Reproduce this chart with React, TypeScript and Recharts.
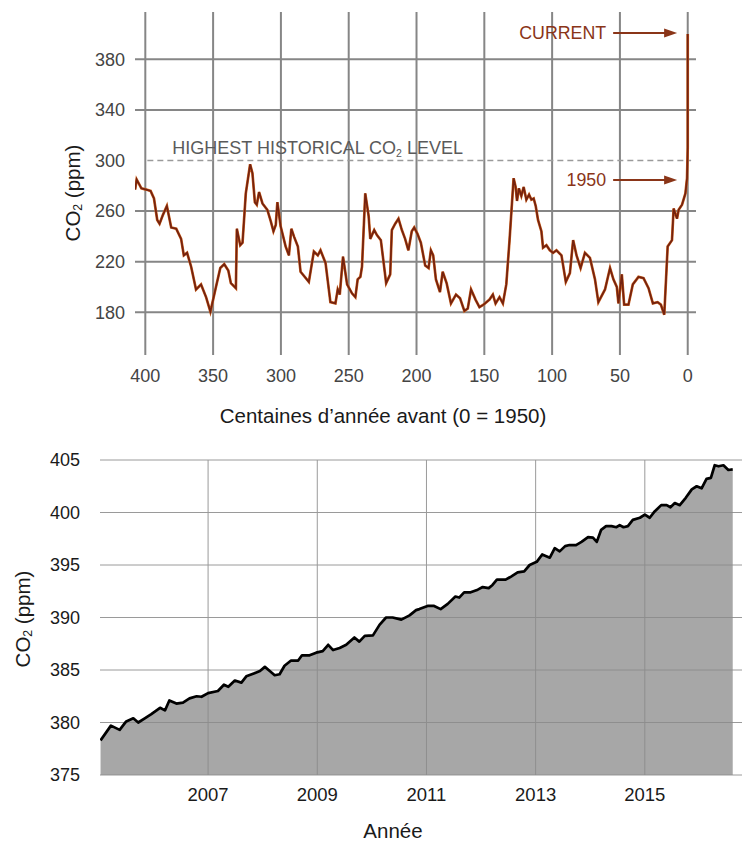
import { Area, AreaChart, CartesianGrid, Line, LineChart, ReferenceLine, XAxis, YAxis } from 'recharts'

const FONT = '"Liberation Sans", Arial, Helvetica, sans-serif'
const BROWN = '#8a3518'

// ice-core record: thousands of years before 1950, CO2 in ppm
const paleoAge = [
  407.5, 406.4, 402.9, 399.3, 396.1, 393.6, 391.2, 389.5, 387.0, 384.1, 380.9, 377.2, 373.6, 371.6, 369.2,
  366.2, 362.6, 358.9, 355.2, 352.0, 347.9, 344.7, 341.8, 338.8, 336.9, 333.2, 332.5, 330.0, 328.3, 325.9,
  322.7, 321.0, 319.2, 317.8, 316.1, 313.6, 310.0, 307.5, 305.5, 303.8, 302.6, 300.2, 296.5, 294.1, 292.3,
  290.4, 287.5, 285.5, 279.4, 275.7, 272.8, 270.8, 267.1, 263.5, 259.8, 258.1, 256.6, 254.2, 251.2, 247.6,
  245.1, 243.4, 241.4, 240.2, 237.8, 235.3, 234.1, 231.2, 229.2, 226.3, 224.8, 222.4, 219.4, 218.2, 215.7,
  213.3, 210.8, 208.4, 206.0, 203.5, 201.7, 199.3, 196.8, 193.6, 191.1, 189.4, 187.7, 185.7, 182.7, 180.7,
  177.8, 174.6, 170.9, 167.9, 164.7, 162.2, 159.8, 156.5, 153.6, 150.6, 146.2, 143.7, 141.7, 138.8, 136.3,
  133.8, 131.4, 128.4, 126.9, 125.9, 124.5, 122.7, 121.0, 119.0, 117.0, 115.3, 113.6, 112.1, 110.4, 107.9,
  106.7, 104.2, 101.7, 99.3, 96.8, 93.1, 89.9, 86.9, 84.5, 82.0, 79.0, 75.8, 72.1, 68.4, 65.9,
  61.0, 57.3, 54.8, 52.3, 51.1, 48.6, 46.9, 43.7, 40.5, 36.3, 32.6, 28.9, 25.7, 22.2, 19.8,
  17.3, 14.8, 11.6, 10.4, 7.9, 6.7, 4.2, 1.7, 0.5, 0, 0,
]
const paleoCo2 = [
  277, 285, 278, 277, 276, 270, 253, 250, 257, 264, 247, 246, 238, 225, 227,
  216, 198, 202, 192, 180.5, 200, 215, 218, 213, 203, 199, 246, 233, 235, 274,
  297, 290, 267, 265, 275, 266, 261, 252, 244, 249, 267, 248, 232, 225, 246,
  240, 232, 212, 204, 228, 225, 229, 219, 188, 187, 198, 194, 224, 202, 195,
  192, 206, 208, 216, 274, 256, 238, 245, 241, 237, 224, 203, 210, 245, 250,
  254, 245, 238, 229, 244, 247, 242, 235, 217, 215, 229, 225, 206, 196, 212,
  203, 187, 194, 191, 181, 183, 198, 190, 184, 186, 190, 194, 187, 192, 187,
  202, 237, 286, 279, 268, 278, 272, 279, 269, 273, 269, 270, 264, 253, 244,
  231, 233, 229, 227, 229, 225, 204, 211, 237, 225, 215, 227, 223, 206, 188,
  198, 215, 206, 200, 187, 210, 186, 186, 202, 208, 207, 199, 187, 188, 186,
  178, 232, 237, 262, 254, 261, 265, 274, 286, 310, 400,
]
const paleoTicks = [400, 350, 300, 250, 200, 150, 100, 50, 0]
const paleoCo2Ticks = [180, 220, 260, 300, 340, 380]
const paleoGridValues = [180, 220, 260, 340, 380]
const highestLevel = 300
const currentLevel = 400.8
const level1950 = 284.6

// Mauna Loa monthly record
const recentYears = [
  2005.03, 2005.22, 2005.38, 2005.5, 2005.63, 2005.72, 2005.84, 2005.96, 2006.12, 2006.21, 2006.29, 2006.42,
  2006.54, 2006.66, 2006.79, 2006.88, 2007.0, 2007.18, 2007.29, 2007.37, 2007.49, 2007.61, 2007.7, 2007.85,
  2007.95, 2008.04, 2008.13, 2008.22, 2008.31, 2008.4, 2008.52, 2008.65, 2008.72, 2008.86, 2008.98, 2009.1,
  2009.2, 2009.29, 2009.41, 2009.53, 2009.68, 2009.77, 2009.87, 2010.02, 2010.14, 2010.26, 2010.38, 2010.54,
  2010.69, 2010.81, 2010.87, 2011.02, 2011.14, 2011.26, 2011.39, 2011.53, 2011.6, 2011.69, 2011.81, 2011.94,
  2012.03, 2012.14, 2012.21, 2012.29, 2012.45, 2012.55, 2012.67, 2012.79, 2012.89, 2013.02, 2013.12, 2013.26,
  2013.35, 2013.44, 2013.54, 2013.62, 2013.74, 2013.84, 2013.96, 2014.05, 2014.12, 2014.2, 2014.29, 2014.39,
  2014.48, 2014.54, 2014.61, 2014.69, 2014.78, 2014.91, 2015.0, 2015.09, 2015.18, 2015.3, 2015.4, 2015.47,
  2015.55, 2015.64, 2015.75, 2015.86, 2015.95, 2016.04, 2016.13, 2016.21, 2016.28, 2016.35, 2016.44, 2016.53,
  2016.61,
]
const recentCo2 = [
  378.3, 379.7, 379.3, 380.1, 380.4, 380.0, 380.4, 380.8, 381.4, 381.15, 382.1, 381.8,
  381.9, 382.3, 382.5, 382.45, 382.8, 383.0, 383.6, 383.4, 384.0, 383.8, 384.4, 384.7,
  384.9, 385.3, 384.9, 384.5, 384.6, 385.4, 385.9, 385.9, 386.4, 386.4, 386.65, 386.8,
  387.4, 386.9, 387.1, 387.4, 388.1, 387.7, 388.25, 388.3, 389.3, 390.0, 390.0, 389.8,
  390.2, 390.7, 390.8, 391.1, 391.1, 390.8, 391.3, 392.0, 391.9, 392.4, 392.4, 392.65,
  392.9, 392.8, 393.1, 393.6, 393.6, 393.9, 394.3, 394.4, 395.0, 395.3, 396.0, 395.7,
  396.6, 396.3, 396.8, 396.9, 396.9, 397.2, 397.65, 397.6, 397.2, 398.35, 398.7, 398.7,
  398.6, 398.8, 398.6, 398.7, 399.3, 399.5, 399.8, 399.5, 400.1, 400.7, 400.7, 400.5,
  400.9, 400.7, 401.4, 402.2, 402.5, 402.3, 403.2, 403.3, 404.5, 404.4, 404.5, 404.05,
  404.1,
]
const yearTicks = [2007, 2009, 2011, 2013, 2015]
const recentCo2Ticks = [375, 380, 385, 390, 395, 400, 405]

const paleoRows = paleoAge.map((t, i) => ({ t, co2: paleoCo2[i] }))
const recentRows = recentYears.map((year, i) => ({ year, co2: recentCo2[i] }))

function Co2Title({ x, y, size }: { x: number; y: number; size: number }) {
  return (
    <text
      x={x}
      y={y}
      transform={`rotate(-90 ${x} ${y})`}
      textAnchor="middle"
      dominantBaseline="central"
      fontSize={size}
      fontFamily={FONT}
      fill="#1a1a1a"
    >
      CO
      <tspan fontSize={size * 0.6} dy={size * 0.28}>2</tspan>
      <tspan dy={-size * 0.28}> (ppm)</tspan>
    </text>
  )
}

function Title({ x, y, size, text }: { x: number; y: number; size: number; text: string }) {
  return (
    <text x={x} y={y} textAnchor="middle" dominantBaseline="central" fontSize={size} fontFamily={FONT} fill="#1a1a1a">
      {text}
    </text>
  )
}

// dashed "highest" line with its caption
const highestShape = (p: any) => (
  <g>
    <line x1={p.x1} y1={p.y1} x2={p.x2} y2={p.y2} stroke="#9a9a9a" strokeWidth={1.5} strokeDasharray="6 4" />
    <text x={p.x1 + 25} y={p.y1 - 6} fontSize={18} fontFamily={FONT} fill="#5a5a5a">
      HIGHEST HISTORICAL CO<tspan fontSize={10.5} dy={3}>2</tspan>
      <tspan dy={-3}> LEVEL</tspan>
    </text>
  </g>
)

const arrowShape = (label: string) => (p: any) => (
  <g>
    <line x1={p.x1} y1={p.y1} x2={p.x2 - 10} y2={p.y1} stroke={BROWN} strokeWidth={2} />
    <polygon points={`${p.x2},${p.y1} ${p.x2 - 13},${p.y1 - 4.5} ${p.x2 - 13},${p.y1 + 4.5}`} fill={BROWN} />
    <text x={p.x1 - 7} y={p.y1} dy="0.36em" textAnchor="end" fontSize={17.8} fontFamily={FONT} fill={BROWN}>
      {label}
    </text>
  </g>
)

function PaleoChart() {
  return (
    <LineChart width={742} height={430} data={paleoRows} margin={{ top: 12, right: 46, bottom: 35, left: 0 }}>
      <CartesianGrid
        stroke="#868686"
        strokeWidth={2}
        horizontalValues={paleoGridValues}
        verticalValues={paleoTicks}
      />
      <XAxis
        dataKey="t"
        type="number"
        reversed
        domain={[-6.1, 407.6]}
        ticks={paleoTicks}
        allowDataOverflow
        axisLine={false}
        tickLine={false}
        tickSize={12}
        height={40}
        tick={{ fill: '#444', fontSize: 18, fontFamily: FONT }}
        label={() => <Title x={383} y={415} size={20.5} text="Centaines d’année avant (0 = 1950)" />}
      />
      <YAxis
        type="number"
        domain={[146.2, 417.4]}
        ticks={paleoCo2Ticks}
        allowDataOverflow
        axisLine={false}
        tickLine={false}
        tickSize={8}
        width={135}
        tick={{ fill: '#444', fontSize: 18, fontFamily: FONT }}
        label={() => <Co2Title x={72} y={193} size={20.5} />}
      />
      <ReferenceLine
        segment={[{ x: 398.5, y: highestLevel }, { x: -2.5, y: highestLevel }]}
        shape={highestShape}
      />
      <ReferenceLine
        segment={[{ x: 55, y: currentLevel }, { x: 7.8, y: currentLevel }]}
        shape={arrowShape('CURRENT')}
      />
      <ReferenceLine
        segment={[{ x: 55, y: level1950 }, { x: 7.8, y: level1950 }]}
        shape={arrowShape('1950')}
      />
      <Line dataKey="co2" stroke="#c9601f" strokeWidth={2.7} dot={false} isAnimationActive={false} />
      <Line dataKey="co2" stroke="#74220f" strokeWidth={1.7} dot={false} isAnimationActive={false} />
    </LineChart>
  )
}

function RecentChart() {
  return (
    <AreaChart width={742} height={403} data={recentRows} margin={{ top: 20, right: 0, bottom: 28, left: 0 }}>
      <CartesianGrid stroke="#9a9a9a" strokeWidth={1} verticalValues={yearTicks} horizontalValues={recentCo2Ticks} />
      <XAxis
        dataKey="year"
        type="number"
        domain={[2005.02, 2016.78]}
        ticks={yearTicks}
        allowDataOverflow
        axisLine={false}
        tickLine={false}
        tickSize={11}
        height={40}
        tick={{ fill: '#1a1a1a', fontSize: 18.5, fontFamily: FONT }}
        label={() => <Title x={393} y={390} size={20.5} text="Année" />}
      />
      <YAxis
        type="number"
        domain={[375, 405]}
        ticks={recentCo2Ticks}
        allowDataOverflow
        axisLine={false}
        tickLine={false}
        tickSize={18}
        width={100}
        tick={{ fill: '#1a1a1a', fontSize: 18, fontFamily: FONT }}
        label={() => <Co2Title x={22} y={179} size={20.5} />}
      />
      <Area
        dataKey="co2"
        type="linear"
        stroke="#000"
        strokeWidth={2.7}
        strokeLinejoin="round"
        fill="#8a8a8a"
        fillOpacity={0.75}
        isAnimationActive={false}
      />
    </AreaChart>
  )
}

export default function App() {
  return (
    <div style={{ position: 'absolute', left: 0, top: 0, width: 742, height: 843, background: '#fff' }}>
      <div style={{ position: 'absolute', left: 0, top: 0 }}>
        <PaleoChart />
      </div>
      <div style={{ position: 'absolute', left: 0, top: 440 }}>
        <RecentChart />
      </div>
    </div>
  )
}
